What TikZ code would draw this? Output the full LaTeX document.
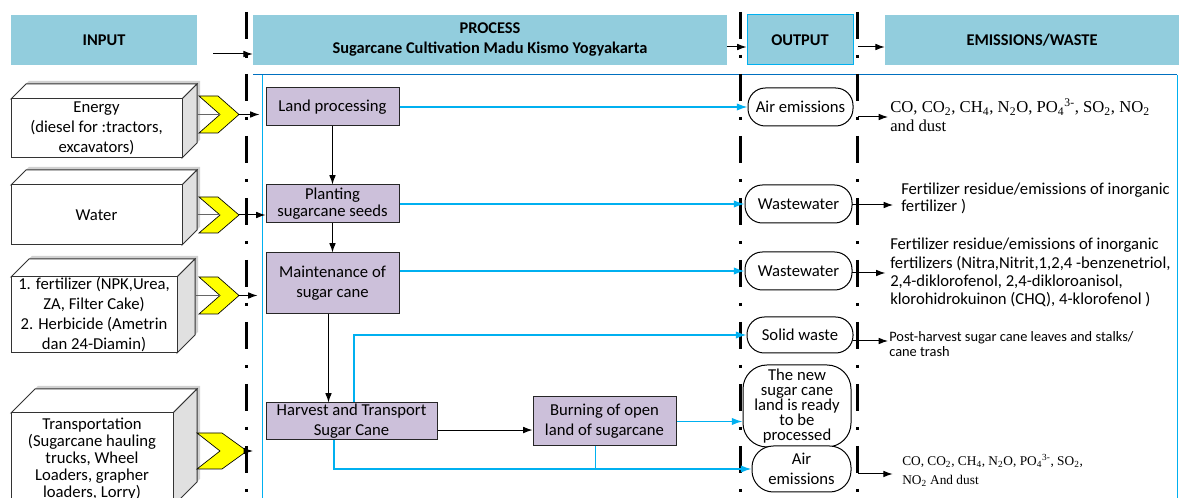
\documentclass[tikz,border=0pt]{standalone}
\usepackage{fontspec}
\setmainfont{Carlito}
\newfontfamily\timesf{Liberation Serif}
\usetikzlibrary{arrows.meta,calc}
\definecolor{hdr}{RGB}{146,205,221}
\definecolor{procf}{RGB}{204,192,218}
\definecolor{lblue}{RGB}{0,176,240}
\definecolor{dblue}{RGB}{0,112,192}
\definecolor{chev}{RGB}{255,255,0}
\definecolor{sideg}{RGB}{224,224,224}

\tikzset{
  boxat/.style args={#1/#2/#3/#4}{minimum width={(#3-#1)*0.75pt}, minimum height={(#4-#2)*0.75pt}, at={({(#1+#3)/2},{(#2+#4)/2})}},
  hdrbox/.style={fill=hdr,inner sep=0pt,font=\bfseries\fontsize{12.3}{15}\selectfont,align=center},
  procbox/.style={draw=black!85,fill=procf,line width=0.75pt,inner sep=0pt,font=\fontsize{12.5}{15}\selectfont,align=center},
  outbox/.style={draw=black,fill=white,line width=0.75pt,inner sep=0pt,rounded corners=13pt,font=\fontsize{12.5}{15}\selectfont,align=center},
  cubefront/.style={draw=black!80,fill=white,line width=0.75pt,inner sep=0pt,align=center},
  cubeline/.style={draw=black!80,line width=0.75pt},
  blk/.style={draw=black,line width=0.75pt,-{Latex[length=7pt,width=5pt]}},
  bline/.style={draw=lblue,line width=1pt,-{Latex[length=8pt,width=5.5pt]}},
  bplain/.style={draw=lblue,line width=1pt},
  gline/.style={draw=black!60,line width=0.75pt},
  dashdot/.style={draw=black,line width=2.25pt,dash pattern=on 20.25pt off 12pt on 2.25pt off 12pt},
  emt/.style={inner sep=0pt,align=left,anchor=north west}
}

\newcommand{\inputcube}[8]{%
  \fill[black!18] ({#1+3},{#2-3}) -- ({#1+#5+3},{#2-#5-3}) -- ({#3+#5+3},{#2-#5-3}) -- ({#3+#5+3},{#4-#5-3}) -- ({#3+3},{#4-3}) -- cycle;
  \draw[cubeline,fill=white] (#1,#2) -- ({#1+#5},{#2-#5}) -- ({#3+#5},{#2-#5}) -- (#3,#2) -- cycle;
  \draw[cubeline,fill=sideg] (#3,#2) -- ({#3+#5},{#2-#5}) -- ({#3+#5},{#4-#5}) -- (#3,#4) -- cycle;
  \node[cubefront,boxat={#1/#2/#3/#4},font=\fontsize{12.5}{#7}\selectfont] (#6) {#8};
}

\newcommand{\chevshape}[7]{%
  \pgfmathsetmacro{\chevmid}{(#2+#3)/2}
  \draw[fill=chev,line width=0.5pt] (#1,#2) -- (#4,#2) -- (#5,\chevmid) -- (#4,#3) -- (#1,#3) -- (#6,\chevmid) -- cycle;
  \coordinate (#7) at (#5,\chevmid);
  \coordinate (#7n) at (#6,\chevmid);
}

\begin{document}
\begin{tikzpicture}[x=0.75pt,y=-0.75pt]
\useasboundingbox (0,0) rectangle (1179,498);
\clip (0,0) rectangle (1179,498);

% headers
\node[hdrbox, boxat={11/15/197/65}] (hin) {INPUT};
\node[hdrbox, boxat={253/15/727/65}] (hproc) {PROCESS\\Sugarcane Cultivation Madu Kismo Yogyakarta};
\node[hdrbox, draw=lblue, line width=0.75pt, boxat={747/15/853/65}] (hout) {OUTPUT};
\node[hdrbox, boxat={885/15/1179/65}] (hem) {EMISSIONS/WASTE};

% frame
\draw[draw=lblue,line width=0.75pt] (262,75) -- (262,498);
\draw[draw=lblue,line width=0.75pt] (1177,75) -- (1177,498);
\draw[draw=dblue,line width=0.75pt] (253,75) -- (1177,75);

% dash-dot separators
\draw[dashdot] (246,12) -- (246,500);
\draw[dashdot] (740,12) -- (740,500);
\draw[dashdot] (857,12) -- (857,500);

% header arrows
\coordinate (ha) at (213,54);
\draw[blk] (ha) -- (ha -| hproc.west);
\coordinate (hb) at (727,47);
\draw[blk] (hb) -- (hb -| hout.west);
\coordinate (hc) at (858,47);
\draw[blk] (hc) -- (hc -| hem.west);

% input cubes
\inputcube{11}{99}{182}{158}{15}{in1}{15}{Energy\\(diesel for :tractors,\\excavators)}
\inputcube{11}{185}{182}{245}{15}{in2}{15}{Water}
\inputcube{11}{277}{177}{353}{18}{in3}{15}{1. fertilizer (NPK,Urea,\\ZA, Filter Cake)\\2. Herbicide (Ametrin\\dan 24-Diamin)}
\inputcube{11}{413}{173}{506}{24}{in4}{12.75}{Transportation\\(Sugarcane hauling\\trucks, Wheel\\Loaders, grapher\\loaders, Lorry)}

% chevrons
\chevshape{199}{96}{133}{218}{239}{220}{t1}
\chevshape{199}{197}{233}{218}{239}{220}{t2}
\chevshape{199}{277}{314}{218}{239}{220}{t3}
\chevshape{197}{433}{469}{222}{247}{220}{t4}
\draw[gline] (t1n) -- ($(t1n)+(-23,0)$);
\draw[gline] (t2n) -- ($(t2n)+(-23,0)$);
\draw[gline] (t3n) -- ($(t3n)+(-25,0)$);

% process boxes
\node[procbox, boxat={266/88/399/126}] (land) {Land processing};
\node[procbox, boxat={266/185/399/223}, font=\fontsize{12.5}{12.75}\selectfont] (plant) {Planting\\sugarcane seeds};
\node[procbox, boxat={266/253/399/314}] (maint) {Maintenance of\\sugar cane};
\node[procbox, boxat={266/403/437/440}] (harvest) {Harvest and Transport\\Sugar Cane};
\node[procbox, boxat={533/397/676/446}] (burning) {Burning of open\\land of sugarcane};

% input arrows
\draw[blk, shorten >=4.5pt] (t1) -- (t1 -| land.west);
\draw[blk] (t2) -- (t2 -| plant.west);
\draw[blk, shorten >=6pt] (t3) -- (t3 -| maint.west);
\draw[blk] (t4) -- ++(6,0);

% process arrows
\draw[blk] (land) -- (plant);
\draw[blk] (plant) -- (maint);
\draw[blk] (maint.south) ++(-4,0) coordinate (m1) -- (m1 |- harvest.north);
\coordinate (h1) at ([yshift=-6.4pt]harvest.east);
\draw[blk] (h1) -- (h1 -| burning.west);

% outputs
\node[outbox, boxat={748/88/853/126}] (air1) {Air emissions};
\node[outbox, boxat={745/185/852/223}] (ww1) {Wastewater};
\node[outbox, boxat={745/252/852/290}] (ww2) {Wastewater};
\node[outbox, boxat={747/317/853/353}] (solid) {Solid waste};
\node[outbox, rounded corners=18pt, boxat={743/365/851/447}, font=\fontsize{12.5}{11.3}\selectfont] (newl) {The new\\sugar cane\\land is ready\\to be\\processed};
\node[outbox, rounded corners=16pt, boxat={752/446/851/492}, font=\fontsize{12.5}{15}\selectfont] (air2) {Air\\emissions};

% blue connectors
\draw[bline] (land.east) -- (land.east -| air1.west);
\draw[bline] (plant.east) -- (plant.east -| ww1.west);
\draw[bline] (maint.east |- ww2.west) -- (ww2.west);
\draw[bline] (harvest.north) ++(2.5,0) coordinate (hs) |- (solid.west);
\draw[bline] (burning.east) -- (burning.east -| newl.west);
\draw[bline] (harvest.south) ++(-17.5,0) coordinate (hd) |- (air2.west);
\draw[bplain] (burning.south) ++(-9,0) coordinate (bj) -- (bj |- air2.west);

% emission texts
\node[emt, font=\timesf\fontsize{12.5}{14.25}\selectfont] (em1) at (890,99) {CO, CO\textsubscript{2}, CH\textsubscript{4}, N\textsubscript{2}O, PO\textsubscript{4}\textsuperscript{3-}, SO\textsubscript{2}, NO\textsubscript{2}\\and dust};
\node[emt, font=\fontsize{12.5}{12.75}\selectfont] (em2) at (901,183) {Fertilizer residue/emissions of inorganic\\fertilizer )};
\node[emt, font=\fontsize{12.5}{13.7}\selectfont] (em3) at (890,238) {Fertilizer residue/emissions of inorganic\\fertilizers (Nitra,Nitrit,1,2,4 -benzenetriol,\\2,4-diklorofenol, 2,4-dikloroanisol,\\klorohidrokuinon (CHQ), 4-klorofenol )};
\node[emt, font=\fontsize{10.8}{11.25}\selectfont] (em4) at (889,331) {Post-harvest sugar cane leaves and stalks/\\cane trash};
\node[emt, font=\timesf\fontsize{10}{14.25}\selectfont] (em5) at (902,454) {CO, CO\textsubscript{2}, CH\textsubscript{4}, N\textsubscript{2}O, PO\textsubscript{4}\textsuperscript{3-}, SO\textsubscript{2},\\NO\textsubscript{2} And dust};

% emission arrows
\coordinate (e1) at (858,117);
\draw[blk, shorten >=1.5pt] (e1) -- (e1 -| em1.west);
\coordinate (e2) at (852,205);
\draw[blk, shorten >=6pt] (e2) -- (e2 -| em2.west);
\coordinate (e3) at (852,273);
\draw[blk, shorten >=3.5pt] (e3) -- (e3 -| em3.west);
\coordinate (e4) at (853,341);
\draw[blk, shorten >=0.75pt] (e4) -- (e4 -| em4.west);
\coordinate (e5) at (858,474);
\draw[blk, shorten >=7pt] (e5) -- (e5 -| em5.west);
\end{tikzpicture}
\end{document}
